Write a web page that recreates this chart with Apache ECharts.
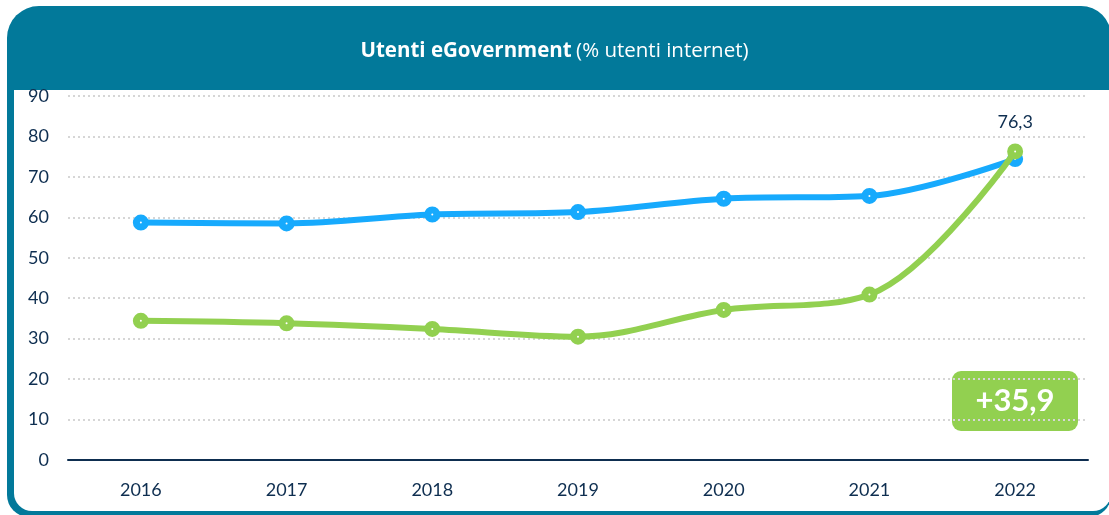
<!DOCTYPE html>
<html>
<head>
<meta charset="utf-8">
<script src="https://cdn.jsdelivr.net/npm/echarts@6/dist/echarts.min.js"></script>
<style>
html,body{margin:0;padding:0;background:#fff;}
#chart{width:1109px;height:515px;}
</style>
</head>
<body>
<div id="chart"></div>
<script>
const years = ['2016','2017','2018','2019','2020','2021','2022'];
const blueValues = [58.7, 58.5, 60.7, 61.3, 64.6, 65.3, 74.4];
const greenValues = [34.4, 33.8, 32.4, 30.5, 37.1, 40.9, 76.3];
const yTicks = [0, 10, 20, 30, 40, 50, 60, 70, 80, 90];
const titleBold = 'Utenti eGovernment';
const titleRest = '(% utenti internet)';
const badgeText = '+35,9';
const lastLabel = '76,3';

const FONT = 'Lato, "Open Sans", sans-serif';
const TFONT = '"Open Sans", Lato, sans-serif';
const TEAL = '#02799A';
const NAVY = '#0E2E50';
const BLUE = '#17AAFD';
const GREEN = '#92D050';

const chart = echarts.init(document.getElementById('chart'), null, {renderer:'canvas'});

function makeSeries(name, data, color, z, labelIdx, labelText) {
  return {
    name: name,
    type: 'line',
    data: data,
    smooth: 0.35,
    z: z,
    symbol: 'circle',
    symbolSize: 9,
    showSymbol: true,
    lineStyle: {color: color, width: 6},
    itemStyle: {color: '#ffffff', borderColor: color, borderWidth: 7},
    label: {
      show: true,
      position: 'top',
      distance: 12,
      color: NAVY,
      fontFamily: FONT,
      fontSize: 18,
      formatter: function (p) { return p.dataIndex === labelIdx ? labelText : ''; }
    },
    emphasis: {disabled: true},
    animation: false
  };
}

chart.setOption({
  animation: false,
  textStyle: {fontFamily: FONT},
  title: {
    text: '{b|' + titleBold + '} {r|' + titleRest + '}',
    left: 'center',
    top: 36,
    textStyle: {
      rich: {
        b: {fontFamily: TFONT, fontWeight: 'bold', fontSize: 20.5, color: '#ffffff'},
        r: {fontFamily: TFONT, fontWeight: 'normal', fontSize: 20.5, color: '#ffffff'}
      }
    },
    z: 10
  },
  graphic: [
    {type: 'rect', z: -10, silent: true,
     shape: {x: 7, y: 6, width: 1104, height: 511, r: [32, 30, 22, 22]},
     style: {fill: TEAL}},
    {type: 'rect', z: -9, silent: true,
     shape: {x: 14, y: 90, width: 1097, height: 421, r: [0, 0, 18, 18]},
     style: {fill: '#ffffff'}},
    {type: 'group', z: 100, children: [
      {type: 'rect', shape: {x: 952, y: 371, width: 126, height: 60, r: 9},
       style: {fill: GREEN}},
      {type: 'text', x: 1015, y: 401,
       style: {text: badgeText, fill: '#ffffff', font: 'bold 31px ' + FONT,
               align: 'center', verticalAlign: 'middle'}}
    ]}
  ],
  grid: {left: 68, right: 21, top: 96, bottom: 55, containLabel: false},
  xAxis: {
    type: 'category',
    data: years,
    boundaryGap: true,
    axisLine: {show: true, lineStyle: {color: NAVY, width: 2}},
    axisTick: {show: false},
    axisLabel: {color: NAVY, fontFamily: FONT, fontSize: 18, margin: 21},
    splitLine: {show: false}
  },
  yAxis: {
    type: 'value',
    min: yTicks[0],
    max: yTicks[yTicks.length - 1],
    interval: yTicks[1] - yTicks[0],
    axisLine: {show: false},
    axisTick: {show: false},
    axisLabel: {color: NAVY, fontFamily: FONT, fontSize: 18, margin: 19},
    splitLine: {show: true, lineStyle: {color: '#D6D6D6', width: 2, type: [2, 3]}}
  },
  series: [
    makeSeries('Italia', blueValues, BLUE, 2, -1, ''),
    makeSeries('Serie 2', greenValues, GREEN, 3, greenValues.length - 1, lastLabel)
  ]
});
</script>
</body>
</html>
